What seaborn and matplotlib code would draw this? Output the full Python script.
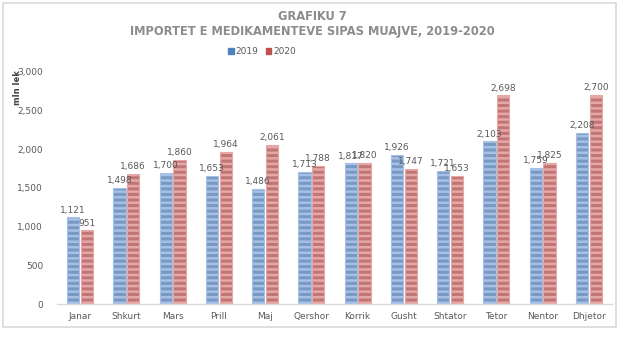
import matplotlib
matplotlib.use("Agg")
import matplotlib.pyplot as plt
import matplotlib.patches as mpatches
import seaborn as sns
import pandas as pd

months = ["Janar", "Shkurt", "Mars", "Prill", "Maj", "Qershor", "Korrik",
          "Gusht", "Shtator", "Tetor", "Nentor", "Dhjetor"]
years = ["2019", "2020"]
values_2019 = [1121, 1498, 1700, 1653, 1486, 1713, 1817, 1926, 1721, 2103, 1759, 2208]
values_2020 = [951, 1686, 1860, 1964, 2061, 1788, 1820, 1747, 1653, 2698, 1825, 2700]
yticks = [0, 500, 1000, 1500, 2000, 2500, 3000]

df = pd.DataFrame({
    "month": months * 2,
    "year": [years[0]] * len(months) + [years[1]] * len(months),
    "value": values_2019 + values_2020,
})

sns.set_style("white")
plt.rcParams["font.family"] = ["DejaVu Sans"]
plt.rcParams["hatch.linewidth"] = 1.8

base = {"2019": "#6C97CF", "2020": "#CD6A6A"}
light = {"2019": "#A6C1E5", "2020": "#E6A7A7"}
legend_col = {"2019": "#4F81BD", "2020": "#C0504D"}

fig = plt.figure(figsize=(6.25, 3.4), dpi=100)
ax = fig.add_axes([57 / 625, 1 - 304 / 340, (612 - 57) / 625, (304 - 72) / 340])

sns.barplot(data=df, x="month", y="value", hue="year", order=months,
            hue_order=years, palette=base, width=0.6, gap=0.12,
            legend=False, ax=ax, errorbar=None)

for cont, yr in zip(ax.containers, years):
    for p in cont:
        p.set_edgecolor(light[yr])
        p.set_hatch("---")
        p.set_linewidth(0.8)
    ax.bar_label(cont, labels=[f"{v:,.0f}" for v in cont.datavalues],
                 padding=2, fontsize=6.5, color="#595959")

ax.set_ylim(0, 3000)
ax.set_yticks(yticks)
ax.set_yticklabels([f"{t:,}" for t in yticks])
ax.set_xlim(-0.5, len(months) - 0.5)
ax.tick_params(axis="both", length=0, labelsize=6.5, colors="#595959")
ax.tick_params(axis="x", pad=6)
ax.tick_params(axis="y", pad=10)
ax.set_xlabel("")
ax.set_ylabel("")
for s in ["top", "right", "left"]:
    ax.spines[s].set_visible(False)
ax.spines["bottom"].set_color("#D9D9D9")
ax.spines["bottom"].set_linewidth(1.0)

fig.text(18 / 625, 1 - 88 / 340, "mln lek", rotation=90, fontsize=6,
         fontweight="bold", color="#404040", ha="center", va="center")

fig.text(0.5, 1 - 17 / 340, "GRAFIKU 7", ha="center", va="center",
         fontsize=8.3, fontweight="bold", color="#8C8C8C")
fig.text(0.5, 1 - 31 / 340, "IMPORTET E MEDIKAMENTEVE SIPAS MUAJVE, 2019-2020",
         ha="center", va="center", fontsize=8.3, fontweight="bold", color="#8C8C8C")

handles = [mpatches.Patch(color=legend_col[y], label=y) for y in years]
fig.legend(handles=handles, loc="center", bbox_to_anchor=(262 / 625, 1 - 52 / 340),
           ncol=2, frameon=False, fontsize=6.5, handlelength=0.6, handleheight=0.6,
           handletextpad=0.2, columnspacing=0.8, labelcolor="#595959")

border = mpatches.Rectangle((3 / 625, 1 - 327 / 340), (616 - 3) / 625, (327 - 3) / 340,
                            transform=fig.transFigure, fill=False,
                            edgecolor="#D9D9D9", linewidth=1.2)
fig.patches.append(border)

fig.savefig("out.png", dpi=100)
